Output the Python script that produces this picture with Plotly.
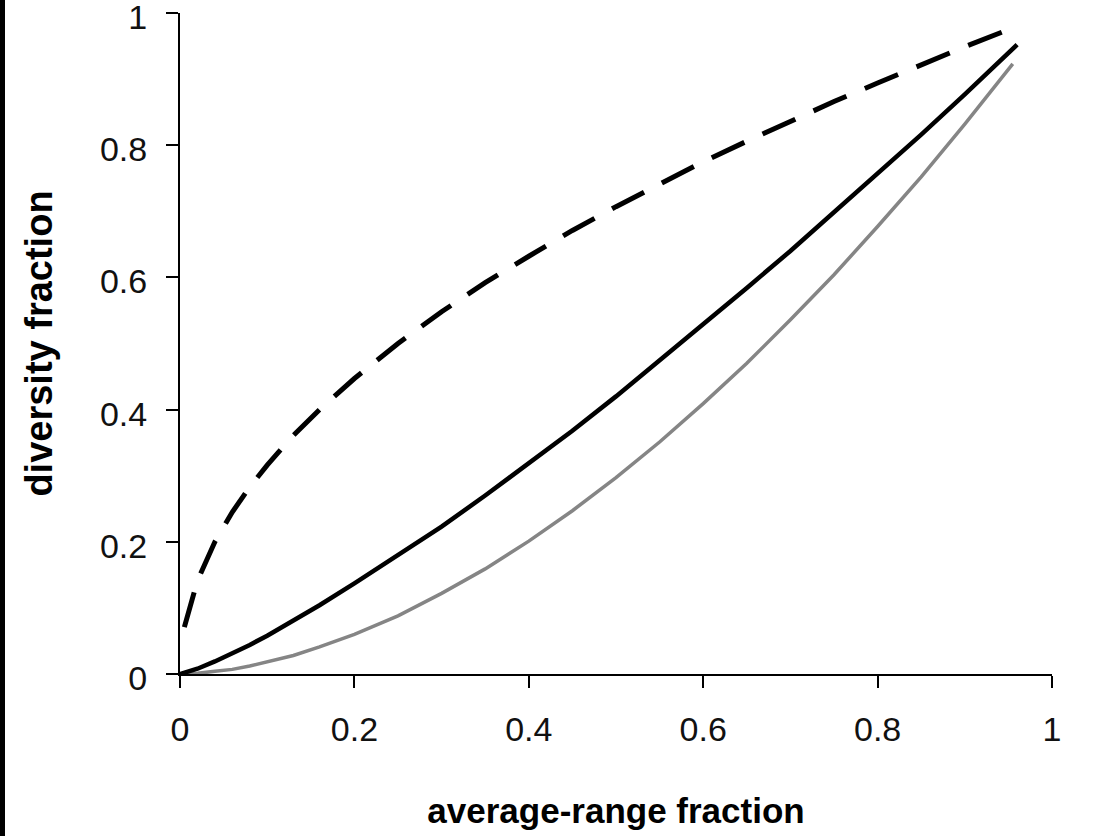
import plotly.graph_objects as go

# average-range fraction (x)
x_vals = [0.005, 0.02, 0.04, 0.06, 0.08, 0.10, 0.13, 0.16, 0.20, 0.25, 0.30, 0.35,
          0.40, 0.45, 0.50, 0.55, 0.60, 0.65, 0.70, 0.75, 0.80, 0.85, 0.90, 0.96]

# dashed black curve
dashed_vals = [0.071, 0.141, 0.200, 0.245, 0.283, 0.316, 0.361, 0.400, 0.447, 0.500, 0.548, 0.592,
               0.632, 0.671, 0.707, 0.742, 0.775, 0.806, 0.837, 0.866, 0.894, 0.922, 0.949, 0.980]

# solid black curve
solid_x = [0.0] + x_vals
solid_vals = [0.0, 0.002, 0.008, 0.019, 0.031, 0.044, 0.058, 0.081, 0.104, 0.137, 0.179, 0.223, 0.270,
              0.318, 0.368, 0.420, 0.474, 0.528, 0.584, 0.640, 0.698, 0.757, 0.816, 0.877, 0.952]

# grey curve
grey_x = [0.0] + x_vals[:-1] + [0.955]
grey_vals = [0.0, 0.0001, 0.001, 0.004, 0.007, 0.012, 0.018, 0.028, 0.041, 0.060, 0.088, 0.122, 0.159,
             0.201, 0.247, 0.297, 0.351, 0.409, 0.470, 0.536, 0.604, 0.677, 0.752, 0.832, 0.923]

tick_vals = [0, 0.2, 0.4, 0.6, 0.8, 1]
tick_text = ["0", "0.2", "0.4", "0.6", "0.8", "1"]

fig = go.Figure()
fig.add_trace(go.Scatter(x=grey_x, y=grey_vals, mode="lines",
                         line=dict(color="#858585", width=3.5), showlegend=False))
fig.add_trace(go.Scatter(x=solid_x, y=solid_vals, mode="lines",
                         line=dict(color="black", width=4.5), showlegend=False))
fig.add_trace(go.Scatter(x=x_vals, y=dashed_vals, mode="lines",
                         line=dict(color="black", width=5, dash="36px,20px"), showlegend=False))

font_family = "Liberation Sans, Arial, sans-serif"
axis_common = dict(
    range=[0, 1], tickvals=tick_vals, ticktext=tick_text, automargin=False,
    showgrid=False, zeroline=False, showline=True, linecolor="black", linewidth=2,
    ticks="outside", ticklen=12, tickwidth=2, tickcolor="black",
    ticklabelstandoff=12, ticklabeloverflow="allow",
    tickfont=dict(family=font_family, size=34, color="#111"),
)

fig.update_layout(
    width=1095, height=836,
    margin=dict(l=180, r=43, t=13, b=162),
    paper_bgcolor="white", plot_bgcolor="white",
    xaxis=dict(**axis_common,
               title=dict(text="<b>average-range fraction</b>", standoff=52,
                          font=dict(family=font_family, size=35, color="black"))),
    yaxis=dict(**axis_common, ticklabelshift=4,
               title=dict(text="<b>diversity fraction</b>", standoff=36,
                          font=dict(family=font_family, size=38, color="black"))),
    shapes=[dict(type="rect", xref="paper", yref="paper",
                 x0=-180 / 872, x1=-175 / 872, y0=-162 / 661, y1=674 / 661,
                 fillcolor="black", line=dict(width=0), layer="above")],
)

fig.write_html("out.html", config={"displayModeBar": False},
               post_script="document.body.style.margin='0';")
